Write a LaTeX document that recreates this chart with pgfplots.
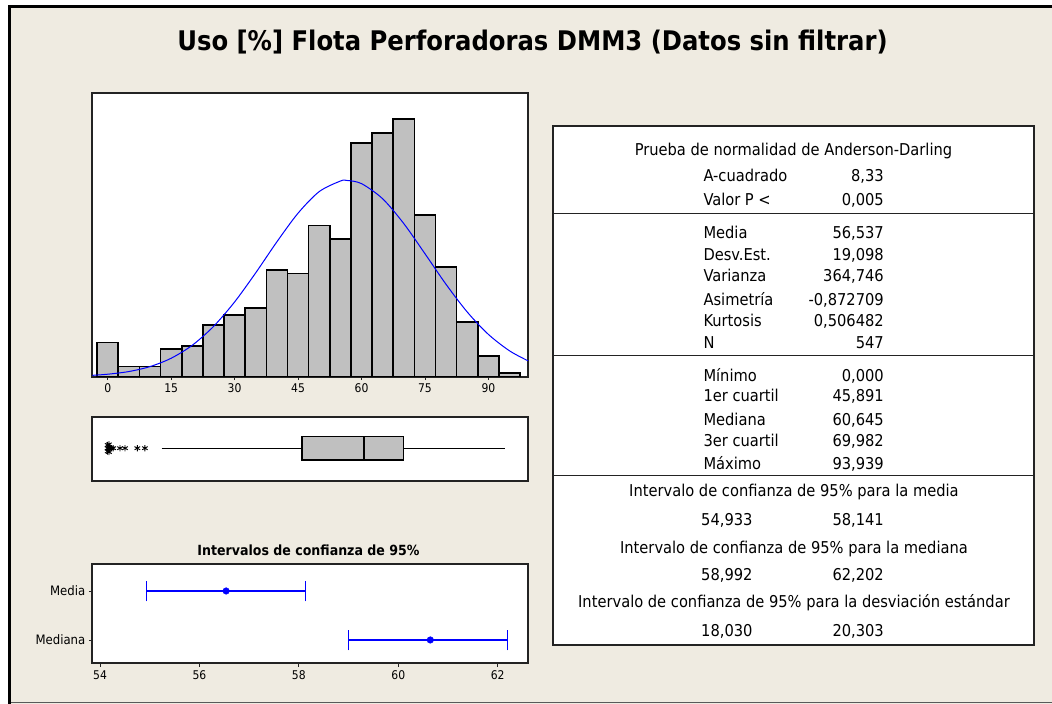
\documentclass[border=0pt]{standalone}
\usepackage{fontspec}
\setmainfont{DejaVu Sans Condensed}
\usepackage{pgfplots}
\pgfplotsset{compat=1.18}

\definecolor{bg}{RGB}{239,235,225}
\definecolor{bargray}{RGB}{192,192,192}
\definecolor{axframe}{RGB}{35,35,35}
\definecolor{mtblue}{RGB}{0,0,255}

\newcommand{\tfont}{\fontsize{16.3}{19}\selectfont}

\pgfplotsset{
  mtframe/.style={
    scale only axis, anchor=south west,
    axis background/.style={fill=white},
    axis line style={axframe, line width=1.7pt},
    /pgf/number format/assume math mode=true,
    tick style={axframe, line width=0.9pt},
    tick align=outside, major tick length=3.5pt,
    tick label style={font=\fontsize{12}{14}\selectfont},
  },
}

\begin{document}
\begin{tikzpicture}[x=1pt,y=1pt]
\path[use as bounding box] (0,0) rectangle (1052,704);
\fill[white] (0,0) rectangle (1052,704);
\fill[black] (8,0) rectangle (1052,699);
\fill[bg] (11,0) rectangle (1052,696);
\draw[gray!70!black, line width=1pt] (11,1.8) -- (1052,1.8);

\node[font=\bfseries\fontsize{27}{31}\selectfont] at (532.5,662) {Uso [\%] Flota Perforadoras DMM3 (Datos sin filtrar)};

% histogram
\begin{axis}[mtframe, at={(92.3pt,327.3pt)}, width=436pt, height=283.4pt,
  xmin=-3.64, xmax=99.43, ymin=0, ymax=82.5,
  xtick={0,15,30,45,60,75,90}, xtick pos=left, ytick=\empty]
\addplot[ybar interval, fill=bargray, draw=black, line width=1.6pt] coordinates {
 (-2.5,10) (2.5,3) (7.5,3) (12.5,8) (17.5,9) (22.5,15) (27.5,18) (32.5,20)
 (37.5,31) (42.5,30) (47.5,44) (52.5,40) (57.5,68) (62.5,71) (67.5,75)
 (72.5,47) (77.5,32) (82.5,16) (87.5,6) (92.5,1) (97.5,1)};
\addplot[mtblue, line width=1pt, smooth] coordinates {
 (-3.6,0.40) (0,0.72) (5,1.50) (10,2.94) (15,5.37) (20,9.16) (25,14.61)
 (30,21.76) (35,30.25) (40,39.27) (45,47.60) (50,53.88) (55,56.95)
 (56.537,57.13) (60,56.20) (65,51.79) (70,44.56) (75,35.80) (80,26.86)
 (85,18.82) (90,12.31) (95,7.52) (99.4,4.60)};
\end{axis}

% boxplot
\begin{axis}[mtframe, at={(92.3pt,223.3pt)}, width=436pt, height=63.7pt,
  xmin=-3.64, xmax=99.43, ymin=0, ymax=1, xtick=\empty, ytick=\empty]
\addplot[black, line width=1.2pt] coordinates {(12.77,0.51) (45.891,0.51)};
\addplot[black, line width=1.2pt] coordinates {(69.982,0.51) (93.939,0.51)};
\addplot[fill=bargray, draw=black, line width=1.5pt] coordinates {
 (45.891,0.325) (69.982,0.325) (69.982,0.69) (45.891,0.69) (45.891,0.325)} -- cycle;
\addplot[black, line width=1.6pt] coordinates {(60.645,0.325) (60.645,0.69)};
\addplot[only marks, mark=asterisk, mark size=3.2pt, black, line width=0.9pt] coordinates {
 (0,0.51) (0.2,0.51) (0.4,0.51) (0.6,0.51) (0.9,0.51) (1.3,0.51)
 (0,0.56) (0,0.46) (0.3,0.57) (0.3,0.45)
 (2.9,0.51) (4.1,0.51) (7.0,0.51) (8.8,0.51)};
\end{axis}

% confidence intervals
\node[font=\bfseries\fontsize{14}{16}\selectfont] at (308.5,154) {Intervalos de confianza de 95\%};
\begin{axis}[mtframe, at={(92.3pt,40.7pt)}, width=436pt, height=99.3pt,
  xmin=53.845, xmax=62.616, ymin=-0.476, ymax=1.551,
  xtick={54,56,58,60,62}, xtick pos=left,
  ytick={0,1}, yticklabels={Mediana,Media}, ytick pos=left,
  yticklabel style={font=\fontsize{13}{15}\selectfont}]
\addplot[mtblue, line width=1.2pt] coordinates {(54.933,1) (58.141,1)};
\addplot[mtblue, line width=1.2pt] coordinates {(54.933,0.79) (54.933,1.21)};
\addplot[mtblue, line width=1.2pt] coordinates {(58.141,0.79) (58.141,1.21)};
\addplot[mtblue, line width=1.2pt] coordinates {(58.992,0) (62.202,0)};
\addplot[mtblue, line width=1.2pt] coordinates {(58.992,-0.21) (58.992,0.21)};
\addplot[mtblue, line width=1.2pt] coordinates {(62.202,-0.21) (62.202,0.21)};
\addplot[only marks, mark=*, mark size=3.3pt, mtblue] coordinates {(56.537,1) (60.645,0)};
\end{axis}

% statistics table
\draw[axframe, line width=1.7pt, fill=white] (553.3,59) rectangle (1034.3,578);
\draw[axframe, line width=1.4pt] (553.3,490.7) -- (1034.3,490.7);
\draw[axframe, line width=1.4pt] (553.3,348.7) -- (1034.3,348.7);
\draw[axframe, line width=1.4pt] (553.3,228.3) -- (1034.3,228.3);
\begin{scope}[every node/.style={font=\tfont, inner sep=0pt}]
\node[anchor=base] at (793.5,548.7) {Prueba de normalidad de Anderson-Darling};
\foreach \lab/\val/\py in {A-cuadrado/{8,33}/176, Valor P </{0,005}/199.3,
  Media/{56,537}/232.7, Desv.Est./{19,098}/254.3, Varianza/{364,746}/276,
  Asimetría/{-0,872709}/299.3, Kurtosis/{0,506482}/321, N/547/342.7,
  Mínimo/{0,000}/376, 1er cuartil/{45,891}/396, Mediana/{60,645}/419.3,
  3er cuartil/{69,982}/441, Máximo/{93,939}/463.3}{
  \node[anchor=base west] at (703.3,698-\py) {\lab};
  \node[anchor=base east] at (884,698-\py) {\val};
}
\node[anchor=base] at (794,207) {Intervalo de confianza de 95\% para la media};
\node[anchor=base east] at (752.7,178.7) {54,933};
\node[anchor=base east] at (884,178.7) {58,141};
\node[anchor=base] at (794,150.7) {Intervalo de confianza de 95\% para la mediana};
\node[anchor=base east] at (752.7,123.7) {58,992};
\node[anchor=base east] at (884,123.7) {62,202};
\node[anchor=base] at (794,96.3) {Intervalo de confianza de 95\% para la desviación estándar};
\node[anchor=base east] at (752.7,67.3) {18,030};
\node[anchor=base east] at (884,67.3) {20,303};
\end{scope}
\end{tikzpicture}
\end{document}
